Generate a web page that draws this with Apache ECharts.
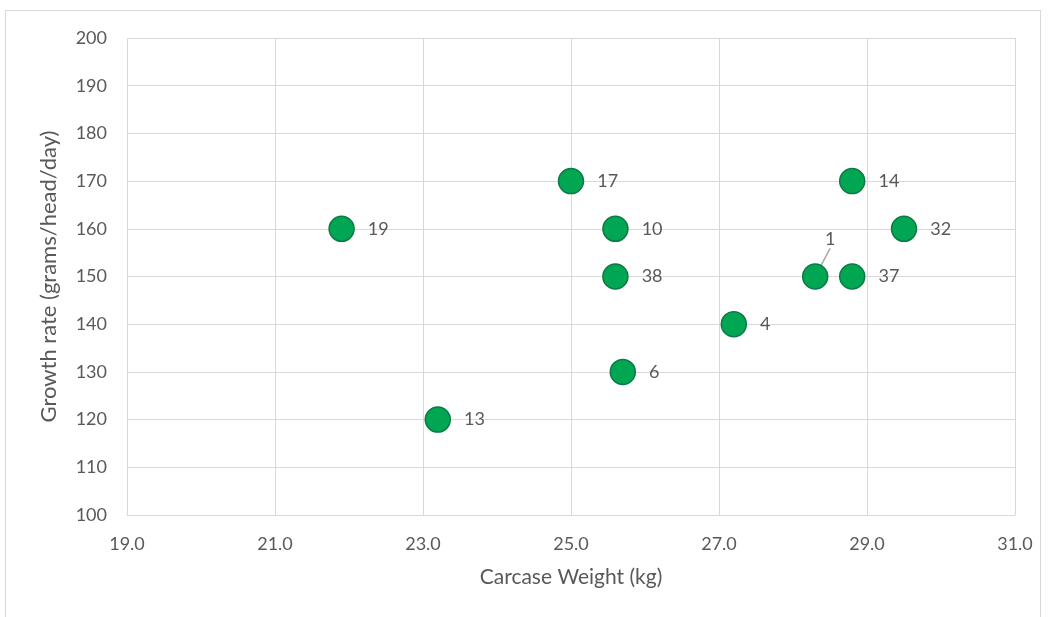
<!DOCTYPE html>
<html><head><meta charset="utf-8">
<script src="https://cdn.jsdelivr.net/npm/echarts@6/dist/echarts.min.js"></script>
<style>
html,body{margin:0;padding:0;background:#fff;}
#frame{position:absolute;left:5px;top:10px;width:1036px;height:610px;border:1px solid #D9D9D9;box-sizing:border-box;}
#chart{position:absolute;left:0;top:0;width:1048px;height:617px;}
</style></head>
<body>
<div id="frame"></div>
<div id="chart"></div>
<script>
const ids = ['19','13','17','10','38','6','4','1','14','37','32'];
const carcaseWeight = [21.9, 23.2, 25.0, 25.6, 25.6, 25.7, 27.2, 28.3, 28.8, 28.8, 29.5];
const growthRate = [160, 120, 170, 160, 150, 130, 140, 150, 170, 150, 160];
const xTicks = {min: 19, max: 31, interval: 2};
const yTicks = {min: 100, max: 200, interval: 10};

const font = 'Lato, "Open Sans", sans-serif';
const chart = echarts.init(document.getElementById('chart'), null, {renderer: 'canvas'});
const data = ids.map((id, i) => {
  const d = {value: [carcaseWeight[i], growthRate[i], id]};
  if (id === '1') {
    d.label = {position: 'top', distance: 20};
    d.labelLine = {show: true};
  }
  return d;
});
chart.setOption({
  animation: false,
  grid: {left: 127, right: 33, top: 38, bottom: 102},
  xAxis: {
    type: 'value', min: xTicks.min, max: xTicks.max, interval: xTicks.interval,
    name: 'Carcase Weight (kg)', nameLocation: 'middle', nameGap: 52,
    nameTextStyle: {color: '#595959', fontSize: 21, fontFamily: font},
    axisLine: {show: true, lineStyle: {color: '#D9D9D9'}},
    axisTick: {show: false},
    axisLabel: {color: '#595959', fontSize: 18, fontFamily: font, margin: 20,
      formatter: v => v.toFixed(1)},
    splitLine: {show: true, lineStyle: {color: '#D9D9D9'}}
  },
  yAxis: {
    type: 'value', min: yTicks.min, max: yTicks.max, interval: yTicks.interval,
    name: 'Growth rate (grams/head/day)', nameLocation: 'middle', nameGap: 67,
    nameTextStyle: {color: '#595959', fontSize: 22, fontFamily: font},
    axisLine: {show: false},
    axisTick: {show: false},
    axisLabel: {color: '#595959', fontSize: 18, fontFamily: font, margin: 20},
    splitLine: {show: true, lineStyle: {color: '#D9D9D9'}}
  },
  series: [{
    type: 'scatter',
    symbol: 'circle',
    symbolSize: 25,
    itemStyle: {color: '#00A651', borderColor: '#0B7A45', borderWidth: 1.5, opacity: 1},
    label: {show: true, position: 'right', distance: 13, formatter: p => p.value[2],
      color: '#595959', fontSize: 18, fontFamily: font},
    labelLine: {show: false, lineStyle: {color: '#A6A6A6', width: 1.5}, length2: 0},
    labelLayout: function (params) {
      if (ids[params.dataIndex] === '1') {
        return {dx: 15, dy: 5};
      }
      return {};
    },
    data: data
  }]
});
</script>
</body></html>
